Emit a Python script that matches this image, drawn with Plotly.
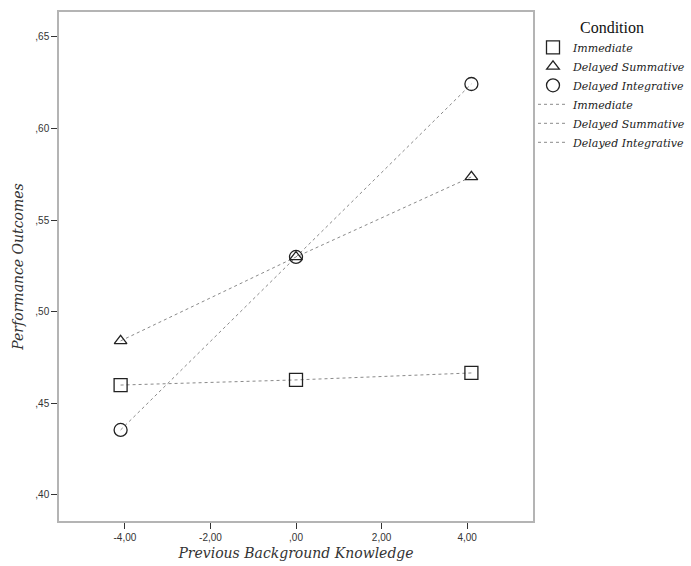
import plotly.graph_objects as go

# Data
knowledge = [-4.1, 0.0, 4.1]
immediate = [0.460, 0.4628, 0.4666]
delayed_summative = [0.4841, 0.5299, 0.5736]
delayed_integrative = [0.4355, 0.5299, 0.6243]

x_tickvals = [-4, -2, 0, 2, 4]
x_ticktext = ["-4,00", "-2,00", ",00", "2,00", "4,00"]
y_tickvals = [0.40, 0.45, 0.50, 0.55, 0.60, 0.65]
y_ticktext = [",40", ",45", ",50", ",55", ",60", ",65"]

conditions = ["Immediate", "Delayed Summative", "Delayed Integrative"]
series = [immediate, delayed_summative, delayed_integrative]
symbols = ["square-open", "triangle-up-open", "circle-open"]
sizes = [13, 11, 13]

SERIF = "DejaVu Serif"
fig = go.Figure()

for name, ys in zip(conditions, series):
    fig.add_trace(go.Scatter(
        x=knowledge, y=ys, mode="lines", name=f"<i>{name}</i>",
        line=dict(color="#8a8a8a", width=1, dash="3px,3px"),
        showlegend=False, hoverinfo="skip"))

for name, ys, sym, sz in zip(conditions, series, symbols, sizes):
    fig.add_trace(go.Scatter(
        x=knowledge, y=ys, mode="markers", name=f"<i>{name}</i>",
        marker=dict(symbol=sym, size=sz, color="#222222",
                    line=dict(width=1.3, color="#222222"))))

for name, ys in zip(conditions, series):
    fig.add_trace(go.Scatter(
        x=[None], y=[None], mode="lines", name=f"<i>{name}</i>",
        line=dict(color="#8a8a8a", width=1, dash="3px,3px")))

fig.update_layout(
    width=691, height=566,
    margin=dict(l=59, r=158, t=12, b=45, autoexpand=False),
    plot_bgcolor="white", paper_bgcolor="white",
    showlegend=True,
    legend=dict(
        x=1.0, y=1.0, xanchor="left", yanchor="top",
        font=dict(family=SERIF, size=11, color="#222222"),
        title=dict(text="Condition", side="top center",
                   font=dict(family="Liberation Serif", size=16, color="#111111")),
        itemwidth=30, tracegroupgap=0, bgcolor="rgba(0,0,0,0)",
    ),
    xaxis=dict(
        range=[-5.54, 5.54], tickvals=x_tickvals, ticktext=x_ticktext,
        showgrid=False, zeroline=False, showline=True, mirror=True,
        linecolor="#b4b4b4", linewidth=1.5, automargin=False,
        ticks="outside", ticklen=6, tickcolor="#333333",
        tickfont=dict(family="Liberation Sans", size=10, color="#333333"),
        title=dict(text="<i>Previous Background Knowledge</i>",
                   font=dict(family=SERIF, size=14, color="#333333"), standoff=6),
    ),
    yaxis=dict(
        range=[0.3858, 0.6636], tickvals=y_tickvals, ticktext=y_ticktext,
        showgrid=False, zeroline=False, showline=True, mirror=True,
        linecolor="#b4b4b4", linewidth=1.5, automargin=False,
        ticks="outside", ticklen=6, tickcolor="#333333",
        tickfont=dict(family="Liberation Sans", size=10, color="#333333"),
        title=dict(text="<i>Performance Outcomes</i>",
                   font=dict(family=SERIF, size=14, color="#333333"), standoff=8),
    ),
)

fig.write_html("out.html",
               config={"displayModeBar": False},
               post_script="document.body.style.margin='0';document.body.style.overflow='hidden';")
